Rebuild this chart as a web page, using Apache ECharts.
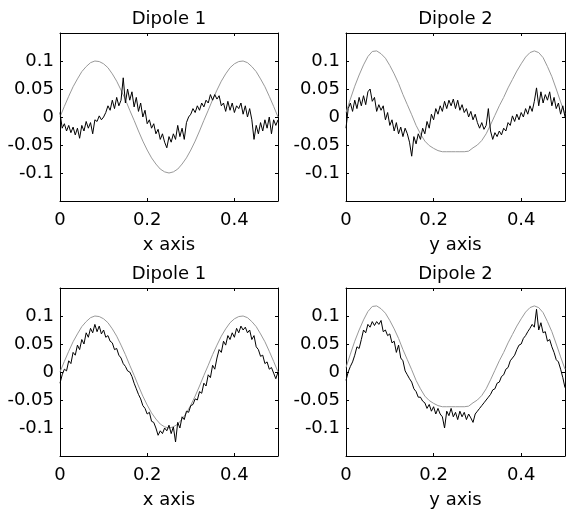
<!DOCTYPE html>
<html>
<head>
<meta charset="utf-8">
<script src="https://cdn.jsdelivr.net/npm/echarts@6/dist/echarts.min.js"></script>
<style>
    html, body {margin: 0; padding: 0; background: #fff;}
    #chartBox {width: 566px; height: 510px;}
</style>
</head>
<body>
<div id="chartBox"></div>
<script>
var titles = ['Dipole 1', 'Dipole 2', 'Dipole 1', 'Dipole 2'];
var axisNames = ['x axis', 'y axis', 'x axis', 'y axis'];
var xTicks = [0, 0.2, 0.4];
var yTicks = [-0.1, -0.05, 0, 0.05, 0.1];
var refStep = 0.01;    // spacing of the grey reference curves
var estStep = 0.005;   // spacing of the black estimated curves

// grey reference, dipole 1 (x axis)
var ref1 = [0, 0.019, 0.037, 0.054, 0.068, 0.081, 0.090, 0.097, 0.100, 0.099,
    0.095, 0.088, 0.077, 0.064, 0.048, 0.031, 0.012, -0.006, -0.025, -0.043,
    -0.059, -0.073, -0.084, -0.093, -0.098, -0.100, -0.098, -0.093, -0.084, -0.073,
    -0.059, -0.043, -0.025, -0.006, 0.012, 0.031, 0.048, 0.064, 0.077, 0.088,
    0.095, 0.099, 0.100, 0.097, 0.090, 0.081, 0.068, 0.054, 0.037, 0.019, 0];

// grey reference, dipole 2 (y axis)
var ref2 = [0.008, 0.032, 0.055, 0.075, 0.093, 0.108, 0.117, 0.118, 0.113, 0.105,
    0.092, 0.077, 0.060, 0.040, 0.022, 0.004, -0.015, -0.030, -0.043, -0.051,
    -0.056, -0.060, -0.062, -0.062, -0.062, -0.062, -0.062, -0.062, -0.061, -0.055,
    -0.050, -0.042, -0.030, -0.014, 0.003, 0.020, 0.035, 0.052, 0.067, 0.082,
    0.095, 0.107, 0.115, 0.118, 0.115, 0.106, 0.090, 0.072, 0.050, 0.027, 0.005];

// black estimates, top row
var est1 = [0.008, -0.02, -0.012, -0.025, -0.015, -0.028, -0.018, -0.032, -0.02, -0.038,
    -0.015, -0.025, -0.008, -0.02, -0.01, -0.03, -0.005, -0.008, 0.002, -0.005,
    0.0, 0.008, 0.02, 0.012, 0.03, 0.015, 0.035, 0.02, 0.03, 0.07,
    0.025, 0.05, 0.03, 0.045, 0.018, 0.035, 0.01, 0.025, 0.0, 0.012,
    -0.012, -0.005, -0.02, -0.012, -0.03, -0.022, -0.04, -0.03, -0.045, -0.055,
    -0.035, -0.045, -0.03, -0.04, -0.015, -0.035, -0.02, -0.04, -0.01, 0.0,
    0.005, 0.015, 0.008, 0.02, 0.012, 0.025, 0.018, 0.03, 0.025, 0.04,
    0.03, 0.04, 0.032, 0.038, 0.02, 0.025, 0.01, 0.028, 0.012, 0.025,
    0.008, 0.02, 0.015, 0.025, 0.005, 0.02, 0.0, 0.015, -0.005, -0.04,
    -0.015, -0.03, -0.01, -0.025, -0.005, -0.02, 0.0, -0.03, -0.005, -0.015, -0.005];

var est2 = [-0.02, 0.015, 0.025, 0.01, 0.03, 0.015, 0.035, 0.02, 0.038, 0.022,
    0.045, 0.05, 0.028, 0.035, 0.01, 0.022, 0.012, 0.02, -0.005, 0.008,
    -0.015, -0.005, -0.025, -0.01, -0.03, -0.018, -0.035, -0.02, -0.03, -0.045,
    -0.07, -0.035, -0.048, -0.03, -0.04, -0.02, -0.03, -0.008, -0.02, 0.005,
    -0.005, 0.015, 0.005, 0.02, 0.01, 0.028, 0.015, 0.03, 0.02, 0.032,
    0.015, 0.03, 0.012, 0.022, 0.008, 0.015, 0.0, 0.01, -0.005, 0.005,
    -0.01, -0.02, -0.01, -0.022, -0.015, 0.015, -0.025, -0.04, -0.028, -0.035,
    -0.025, -0.032, -0.02, -0.025, -0.01, -0.015, 0.002, -0.008, 0.005, -0.005,
    0.008, 0.0, 0.015, 0.005, 0.02, 0.01, 0.028, 0.052, 0.02, 0.045,
    0.025, 0.04, 0.03, 0.045, 0.02, 0.035, 0.015, 0.025, 0.005, 0.02, 0.0];

// black estimates, bottom row
var est3 = [-0.02, -0.005, 0.005, 0.002, 0.02, 0.015, 0.035, 0.03, 0.048, 0.04,
    0.058, 0.05, 0.07, 0.062, 0.078, 0.07, 0.085, 0.072, 0.082, 0.068,
    0.075, 0.062, 0.065, 0.055, 0.052, 0.04, 0.042, 0.03, 0.025, 0.015,
    0.01, 0.002, 0.0, -0.008, -0.02, -0.03, -0.04, -0.048, -0.06, -0.065,
    -0.075, -0.072, -0.088, -0.09, -0.1, -0.113, -0.105, -0.11, -0.1, -0.105,
    -0.095, -0.11, -0.098, -0.125, -0.09, -0.1, -0.08, -0.085, -0.07, -0.072,
    -0.06, -0.058, -0.048, -0.05, -0.035, -0.038, -0.02, -0.025, -0.005, -0.01,
    0.012, 0.005, 0.025, 0.04, 0.035, 0.055, 0.048, 0.065, 0.058, 0.07,
    0.062, 0.078, 0.07, 0.082, 0.075, 0.08, 0.07, 0.075, 0.058, 0.065,
    0.045, 0.04, 0.028, 0.03, 0.015, 0.018, 0.005, 0.008, -0.002, -0.012, 0.0];

var est4 = [-0.015, 0.0, 0.01, 0.018, 0.03, 0.045, 0.042, 0.058, 0.075, 0.07,
    0.085, 0.08, 0.09, 0.083, 0.09, 0.085, 0.092, 0.072, 0.075, 0.065,
    0.068, 0.052, 0.055, 0.035, 0.048, 0.025, 0.02, 0.002, -0.005, -0.012,
    -0.018, -0.03, -0.035, -0.045, -0.045, -0.052, -0.055, -0.065, -0.058, -0.07,
    -0.062, -0.075, -0.065, -0.075, -0.08, -0.1, -0.07, -0.078, -0.065, -0.08,
    -0.072, -0.085, -0.07, -0.08, -0.072, -0.085, -0.075, -0.082, -0.09, -0.075,
    -0.07, -0.065, -0.06, -0.055, -0.05, -0.045, -0.04, -0.032, -0.03, -0.02,
    -0.018, -0.008, -0.005, 0.005, 0.008, 0.02, 0.025, 0.03, 0.04, 0.048,
    0.05, 0.06, 0.065, 0.072, 0.078, 0.085, 0.08, 0.112, 0.075, 0.088,
    0.07, 0.072, 0.055, 0.058, 0.045, 0.035, 0.022, 0.018, 0.005, -0.01, -0.028];

var refs = [ref1, ref2, ref1, ref2];
var ests = [est1, est2, est3, est4];

drawDipoles();

/**
 * turn a list of samples into [x, y] pairs on a fixed step
 */
function pairs(values, step) {
    var out = [];
    for (var i = 0; i < values.length; i++) {
        out.push([+(i * step).toFixed(3), values[i]]);
    }
    return out;
}

function tickStyle(values) {
    return {show: true, inside: true, length: 3, customValues: values,
        lineStyle: {color: '#000', width: 1}};
}

/**
 * 2x2 grid of dipole plots
 */
function drawDipoles() {
    var myChart = echarts.init(document.getElementById('chartBox'));
    var font = 'DejaVu Sans, sans-serif';
    var boxes = [
        {left: 60, top: 33, width: 218, height: 168},
        {left: 346, top: 33, width: 219, height: 168},
        {left: 60, top: 288, width: 218, height: 168},
        {left: 346, top: 288, width: 219, height: 168}
    ];
    var grid = [], xAxis = [], yAxis = [], title = [], series = [];
    var line = {show: true, onZero: false, lineStyle: {color: '#000', width: 1}};

    for (var i = 0; i < 4; i++) {
        var b = boxes[i];
        grid.push({left: b.left, top: b.top, width: b.width, height: b.height});
        title.push({
            text: titles[i],
            left: b.left + b.width / 2 - 5,
            top: b.top - 28,
            textAlign: 'center',
            textStyle: {fontFamily: font, fontSize: 18, fontWeight: 'normal', color: '#000'}
        });
        // bottom & top x axes
        xAxis.push({
            type: 'value', gridIndex: i, position: 'bottom', min: 0, max: 0.5,
            name: axisNames[i], nameLocation: 'middle', nameGap: 35,
            nameTextStyle: {fontFamily: font, fontSize: 18, color: '#000'},
            axisLine: line, axisTick: tickStyle(xTicks),
            axisLabel: {customValues: xTicks, margin: 10, fontFamily: font, fontSize: 18, color: '#000'},
            splitLine: {show: false}
        });
        xAxis.push({
            type: 'value', gridIndex: i, position: 'top', min: 0, max: 0.5,
            axisLine: line, axisTick: tickStyle(xTicks),
            axisLabel: {show: false}, splitLine: {show: false}
        });
        // left & right y axes
        yAxis.push({
            type: 'value', gridIndex: i, position: 'left', min: -0.15, max: 0.15,
            axisLine: line, axisTick: tickStyle(yTicks),
            axisLabel: {customValues: yTicks, margin: 6, fontFamily: font, fontSize: 18, color: '#000'},
            splitLine: {show: false}
        });
        yAxis.push({
            type: 'value', gridIndex: i, position: 'right', min: -0.15, max: 0.15,
            axisLine: line, axisTick: tickStyle(yTicks),
            axisLabel: {show: false}, splitLine: {show: false}
        });
        series.push({
            type: 'line', xAxisIndex: 2 * i, yAxisIndex: 2 * i,
            data: pairs(refs[i], refStep), showSymbol: false,
            lineStyle: {color: '#999', width: 1}, z: 2
        });
        series.push({
            type: 'line', xAxisIndex: 2 * i, yAxisIndex: 2 * i,
            data: pairs(ests[i], estStep), showSymbol: false,
            lineStyle: {color: '#000', width: 1}, z: 3
        });
    }

    var option = {
        animation: false,
        backgroundColor: '#fff',
        title: title,
        grid: grid,
        xAxis: xAxis,
        yAxis: yAxis,
        series: series
    };
    myChart.setOption(option);
}
</script>
</body>
</html>
